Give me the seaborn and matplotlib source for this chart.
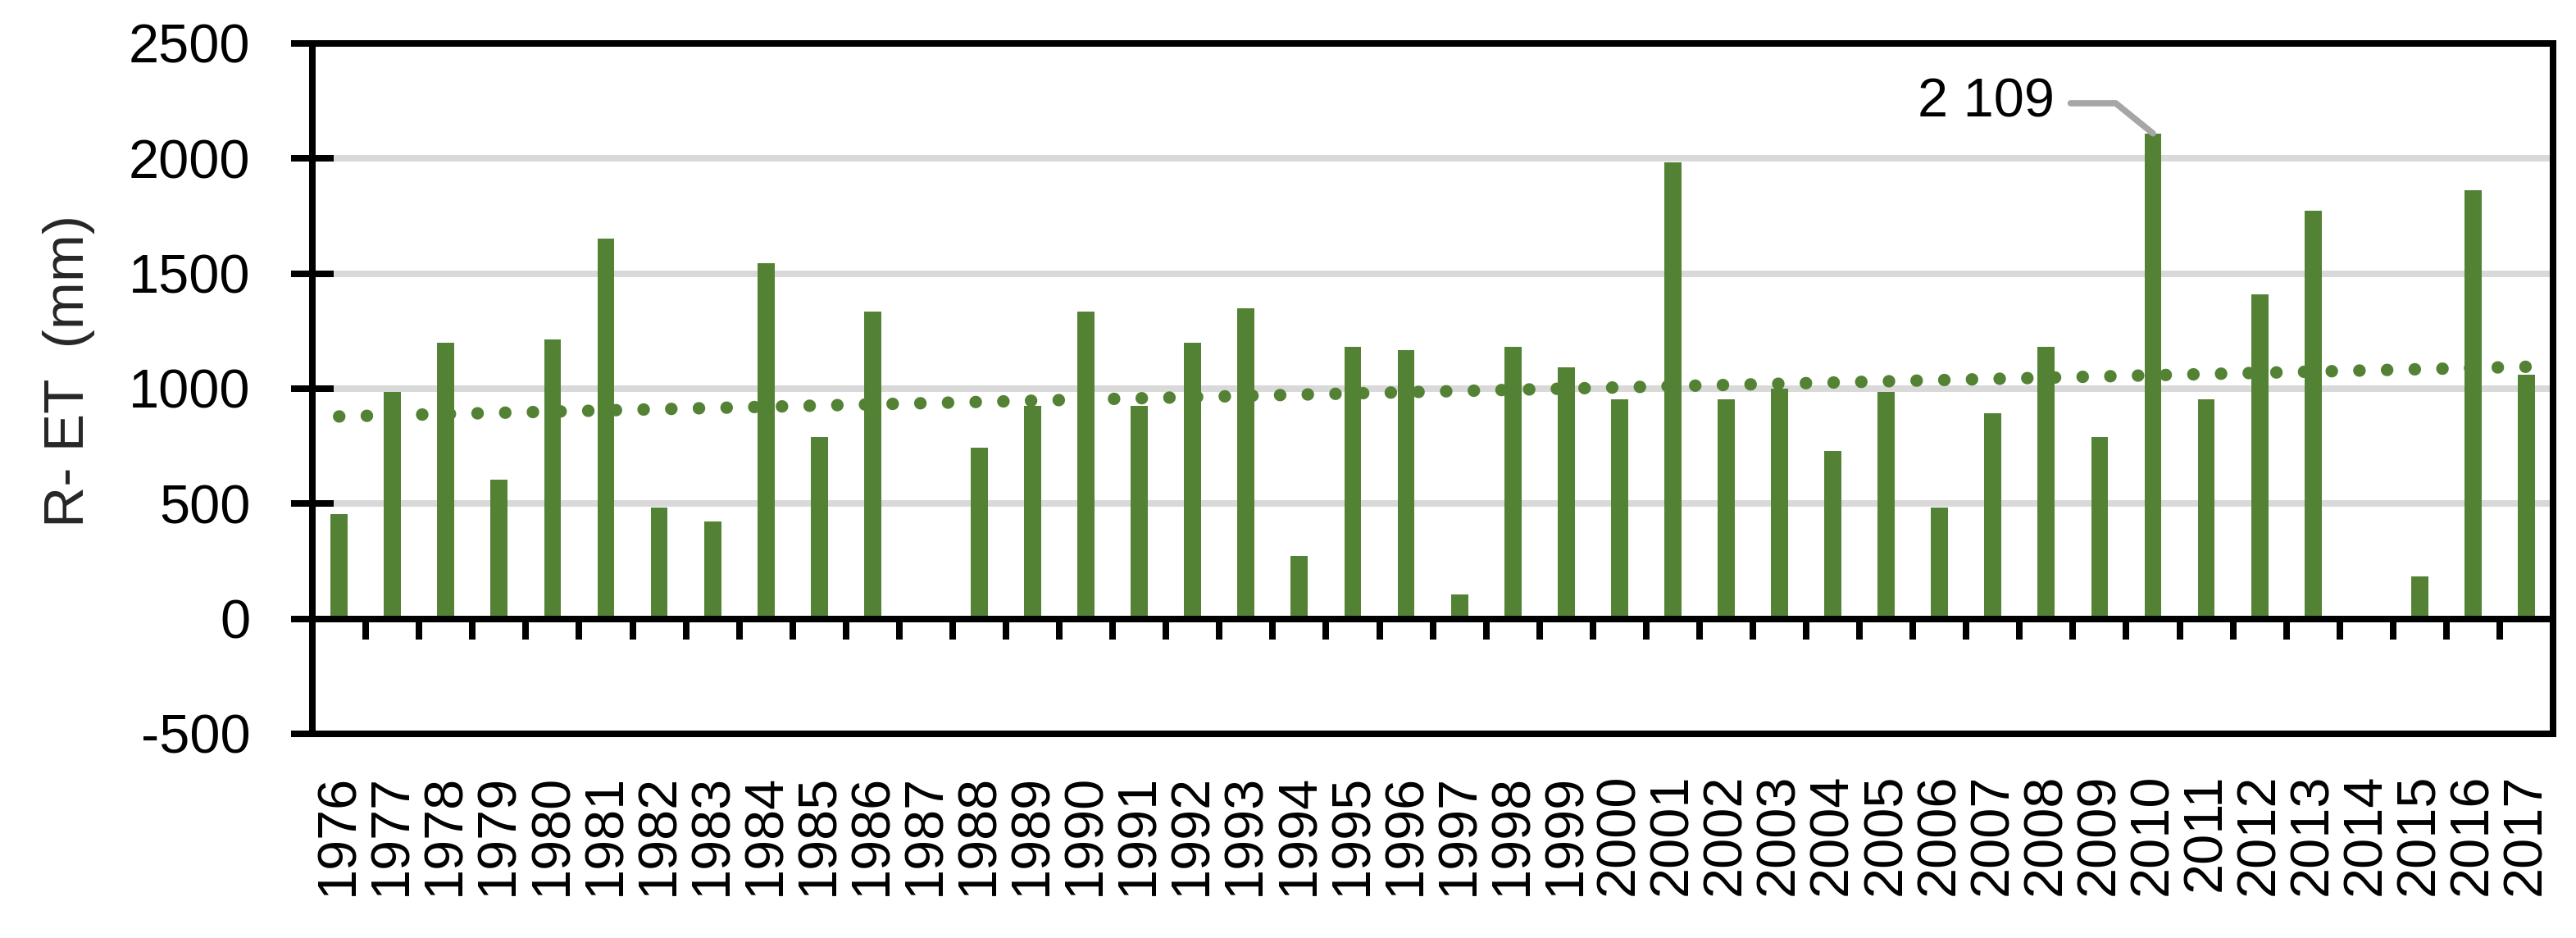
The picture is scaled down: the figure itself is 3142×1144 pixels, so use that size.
import numpy as np
import pandas as pd
import matplotlib
matplotlib.use("Agg")
import matplotlib.pyplot as plt
import seaborn as sns

# R - ET per year (mm); 1987 and 2014 are zero (no visible bar)
years = [str(y) for y in range(1976, 2018)]
r_et = [
    455, 984, 1198, 606, 1212, 1651, 484, 424, 1544, 789,
    1334, 0, 743, 925, 1334, 925, 1198, 1349, 273, 1181,
    1166, 105, 1181, 1091, 954, 1985, 954, 999, 728, 984,
    484, 894, 1181, 789, 2109, 954, 1408, 1773, 0, 183,
    1863, 1060,
]
y_ticks = [-500, 0, 500, 1000, 1500, 2000, 2500]
peak_year = "2010"
peak_label = "2 109"

green = "#548235"
grid_grey = "#d9d9d9"
leader_grey = "#a6a6a6"
frame_lw = 5.76


def main():
    sns.set_theme(style="white")
    plt.rcParams["font.family"] = ["Liberation Sans", "DejaVu Sans"]
    plt.rcParams["axes.unicode_minus"] = False

    df = pd.DataFrame({"year": years, "r_et": r_et})

    fig = plt.figure(figsize=(31.42, 11.44), dpi=100)
    ax = fig.add_axes([0.1213, 0.2177, 0.8698, 0.7360])

    sns.barplot(data=df, x="year", y="r_et", order=years, color=green,
                saturation=1, width=0.32, errorbar=None, linewidth=0, ax=ax)

    # linear trend line (least squares over all years, like the spreadsheet)
    idx = np.arange(len(years))
    sns.regplot(x=idx, y=df["r_et"].to_numpy(), scatter=False, ci=None,
                ax=ax, color=green, truncate=True,
                line_kws=dict(linewidth=11, linestyle=(0, (0.01, 2.2)),
                              dash_capstyle="round", solid_capstyle="round"))

    ax.set_xlim(-0.5, len(years) - 0.5)
    ax.set_ylim(y_ticks[0], y_ticks[-1])
    ax.set_yticks(y_ticks)
    ax.set_xlabel("")
    ax.set_ylabel("R- ET  (mm)", fontsize=50)
    ax.yaxis.set_label_coords(-0.097, 0.526)

    ax.grid(axis="y", color=grid_grey, linewidth=frame_lw)
    ax.grid(axis="x", visible=False)
    ax.set_axisbelow(True)

    for side in ["left", "right", "top", "bottom"]:
        ax.spines[side].set_visible(True)
        ax.spines[side].set_color("black")
        ax.spines[side].set_linewidth(frame_lw)

    ax.tick_params(axis="y", left=True, direction="inout", length=37,
                   width=frame_lw, color="black", pad=36, labelsize=48,
                   labelcolor="black")
    ax.tick_params(axis="x", bottom=True, length=0, pad=35, labelsize=48,
                   labelrotation=90, labelcolor="black")

    # zero line with tick marks between the categories
    zero_pos = (0 - y_ticks[0]) / (y_ticks[-1] - y_ticks[0])
    sec = ax.secondary_xaxis(zero_pos)
    sec.set_xticks(np.arange(0.5, len(years) - 1, 1))
    sec.tick_params(axis="x", bottom=True, top=False, direction="out",
                    length=18, width=frame_lw, color="black",
                    labelbottom=False, labeltop=False)
    for side in ["top", "bottom"]:
        sec.spines[side].set_color("black")
        sec.spines[side].set_linewidth(frame_lw)
    sec.set_zorder(3)

    # callout for the maximum
    peak_i = years.index(peak_year)
    peak_v = r_et[peak_i]
    ax.annotate(peak_label, xy=(peak_i, peak_v), xytext=(peak_i - 1.85, 2240),
                ha="right", va="center", fontsize=48, color="black",
                arrowprops=dict(arrowstyle="-", color=leader_grey, lw=5.5,
                                shrinkA=12, shrinkB=0,
                                connectionstyle="angle,angleA=0,angleB=141,rad=0"))

    fig.savefig("out.png", dpi=100)
    plt.close(fig)


if __name__ == "__main__":
    main()
